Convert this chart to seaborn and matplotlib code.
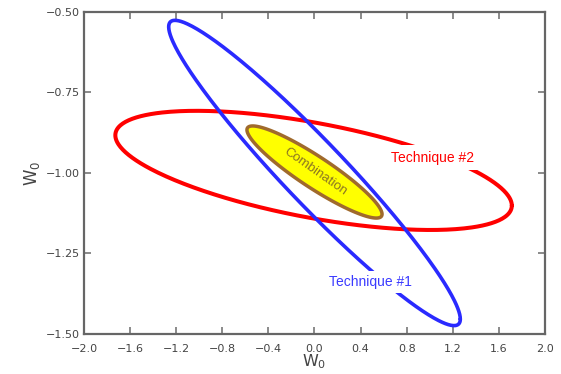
import numpy as np
import pandas as pd
import matplotlib
matplotlib.use("Agg")
import matplotlib.pyplot as plt
import seaborn as sns

# Ellipse parameters (data units): center x, center y, half-extent x, half-extent y, correlation
names = ["Technique #1", "Technique #2", "Combination"]
center_x = [0.0, -0.008, 0.0]
center_y = [-1.0, -0.992, -0.997]
extent_x = [1.265, 1.72, 0.586]
extent_y = [0.474, 0.185, 0.143]
correlation = [-0.957, -0.59, -0.915]

x_ticks = [-2.0, -1.6, -1.2, -0.8, -0.4, 0.0, 0.4, 0.8, 1.2, 1.6, 2.0]
y_ticks = [-1.50, -1.25, -1.00, -0.75, -0.50]

def ellipse_frame(i):
    t = np.linspace(0, 2 * np.pi, 400)
    d = np.arccos(correlation[i])
    x = center_x[i] + extent_x[i] * np.cos(t)
    y = center_y[i] + extent_y[i] * np.cos(t - d)
    return pd.DataFrame({"x": x, "y": y, "name": names[i]})

sns.set_theme(style="white")
fig = plt.figure(figsize=(5.61, 3.74), dpi=100)
ax = fig.add_axes([0.1497, 0.107, 0.8218, 0.861])

df1 = ellipse_frame(0)
df2 = ellipse_frame(1)
df3 = ellipse_frame(2)

sns.lineplot(data=df2, x="x", y="y", sort=False, estimator=None, color="#ff0000",
             linewidth=2.9, ax=ax, zorder=2)
sns.lineplot(data=df1, x="x", y="y", sort=False, estimator=None, color="#2a2aff",
             linewidth=2.6, ax=ax, zorder=3)
ax.fill(df3["x"], df3["y"], facecolor="#ffff00", edgecolor="#a06a2c", linewidth=2.5, zorder=4)

ax.text(0.01, -0.995, "Combination", rotation=-35, ha="center", va="center",
        fontsize=9.5, color="#8a7424", family="Liberation Sans", zorder=5)
ax.text(1.028, -0.953, "Technique #2", ha="center", va="center", fontsize=10,
        color="#ff0000", family="Liberation Sans", zorder=6,
        bbox=dict(facecolor="white", edgecolor="none", pad=4))
ax.text(0.482, -1.338, "Technique #1", ha="center", va="center", fontsize=10,
        color="#3a3aff", family="Liberation Sans", zorder=6,
        bbox=dict(facecolor="white", edgecolor="none", pad=3))

ax.set_xlim(-2.0, 2.0)
ax.set_ylim(-1.5, -0.5)
ax.set_xticks(x_ticks)
ax.set_yticks(y_ticks)
ax.set_xticklabels([f"{v:.1f}".replace("-", "\u2212") for v in x_ticks])
ax.set_yticklabels([f"{v:.2f}".replace("-", "\u2212") for v in y_ticks])
ax.tick_params(axis="both", which="major", direction="in", length=5, width=1.2,
               color="#777777", labelsize=8, labelcolor="#444444",
               top=True, right=True, bottom=True, left=True)
ax.tick_params(axis="x", pad=7)
ax.tick_params(axis="y", pad=3)
for s in ax.spines.values():
    s.set_color("#666666")
    s.set_linewidth(1.6)
ax.set_xlabel("W$_\\mathregular{0}$", fontsize=11.5, color="#444444", labelpad=-1)
ax.set_ylabel("W$_\\mathregular{0}$", fontsize=12, color="#444444", labelpad=3)
ax.grid(False)

fig.savefig("out.png", dpi=100)
